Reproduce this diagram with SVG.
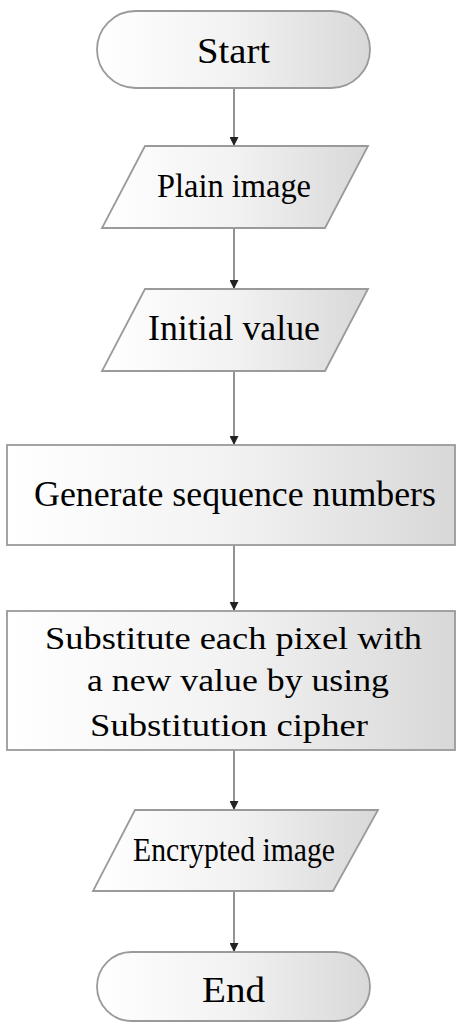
<svg xmlns="http://www.w3.org/2000/svg" width="456" height="1026" viewBox="0 0 456 1026">
  <style>
    .shape { fill: url(#shade); stroke: #9a9a9a; stroke-width: 1.8; }
    .label { fill: #000; text-anchor: middle; }
    .flow { stroke: #777; stroke-width: 1.6; fill: none; marker-end: url(#head); }
  </style>
  <defs>
    <linearGradient id="shade" x1="0" y1="0" x2="1" y2="0">
      <stop offset="0" stop-color="#ffffff"/>
      <stop offset="0.5" stop-color="#f2f2f2"/>
      <stop offset="1" stop-color="#d8d8d8"/>
    </linearGradient>
    <marker id="head" viewBox="0 0 10 10" refX="10" refY="5" markerWidth="10" markerHeight="9" markerUnits="userSpaceOnUse" orient="auto">
      <path d="M0,0 L10,5 L0,10 Z" fill="#222"/>
    </marker>
  </defs>

  <!-- connectors -->
  <g id="connectors">
    <line class="flow" x1="234" y1="88" x2="234" y2="146"/>
    <line class="flow" x1="234" y1="228" x2="234" y2="289"/>
    <line class="flow" x1="234" y1="371" x2="234" y2="445"/>
    <line class="flow" x1="234" y1="545" x2="234" y2="611"/>
    <line class="flow" x1="234" y1="750" x2="234" y2="810"/>
    <line class="flow" x1="234" y1="891" x2="234" y2="952"/>
  </g>

  <g font-family="Liberation Serif, serif">
    <g id="start">
      <rect class="shape" x="97" y="11" width="273" height="77" rx="38.5"/>
      <text class="label" x="233.5" y="63" font-size="35" textLength="73" lengthAdjust="spacingAndGlyphs">Start</text>
    </g>

    <g id="plain-image">
      <polygon class="shape" points="145,146 368,146 325,228 102,228"/>
      <text class="label" x="234" y="197" font-size="34" textLength="154" lengthAdjust="spacingAndGlyphs">Plain image</text>
    </g>

    <g id="initial-value">
      <polygon class="shape" points="145,289 368,289 325,371 102,371"/>
      <text class="label" x="234" y="340" font-size="35" textLength="172" lengthAdjust="spacingAndGlyphs">Initial value</text>
    </g>

    <g id="generate">
      <rect class="shape" x="7" y="445" width="448" height="100"/>
      <text class="label" x="235" y="506" font-size="36" textLength="402" lengthAdjust="spacingAndGlyphs">Generate sequence numbers</text>
    </g>

    <g id="substitute">
      <rect class="shape" x="7" y="611" width="448" height="139"/>
      <text class="label" x="233.5" y="649" font-size="32" textLength="377" lengthAdjust="spacingAndGlyphs">Substitute each pixel with</text>
      <text class="label" x="238" y="691" font-size="32" textLength="302" lengthAdjust="spacingAndGlyphs">a new value by using</text>
      <text class="label" x="229" y="736" font-size="32" textLength="278" lengthAdjust="spacingAndGlyphs">Substitution cipher</text>
    </g>

    <g id="encrypted-image">
      <polygon class="shape" points="135,810 378,810 333,891 93,891"/>
      <text class="label" x="234" y="861" font-size="34" textLength="202" lengthAdjust="spacingAndGlyphs">Encrypted image</text>
    </g>

    <g id="end">
      <rect class="shape" x="97" y="952" width="273" height="69" rx="34.5"/>
      <text class="label" x="233.5" y="1002" font-size="35" textLength="63" lengthAdjust="spacingAndGlyphs">End</text>
    </g>
  </g>
</svg>
